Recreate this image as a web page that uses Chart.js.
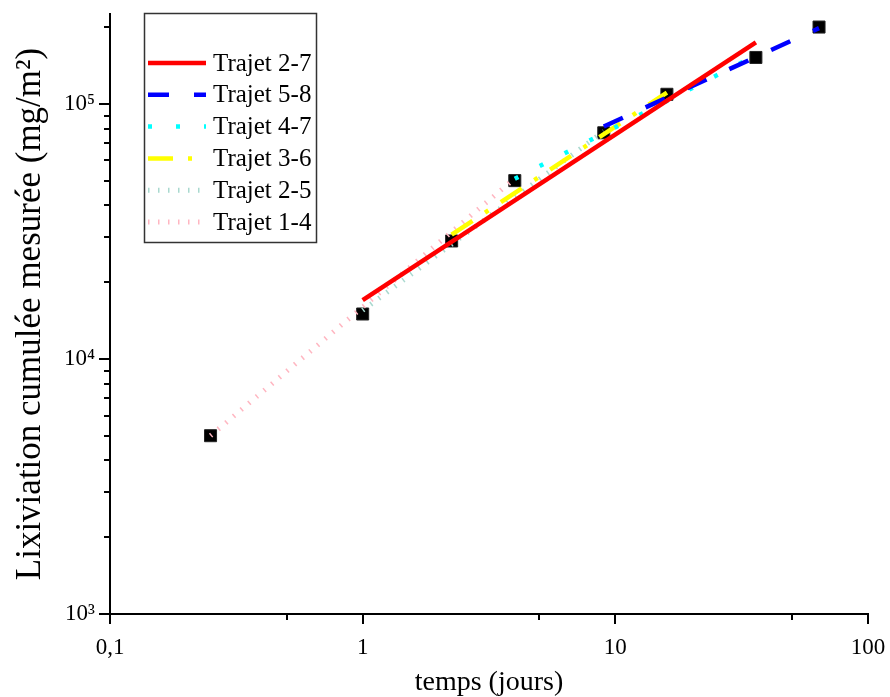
<!DOCTYPE html>
<html>
<head>
<meta charset="utf-8">
<script src="https://cdn.jsdelivr.net/npm/chart.js@4"></script>
<style>
  body { margin: 0; background: #fff; }
  #wrap { width: 890px; height: 697px; }
</style>
</head>
<body>
<div id="wrap"><canvas id="lixChart"></canvas></div>
<script>
// points mesurés (jours, mg/m²)
const tempsMesures = [0.25, 1, 2.25, 4, 9, 16, 36, 64];
const lixMesuree = [5000, 15000, 29000, 50000, 77000, 109000, 152000, 200000];

// droites d'ajustement par trajet : debut et fin
const trajetLabels = ["Trajet 2-7", "Trajet 5-8", "Trajet 4-7", "Trajet 3-6", "Trajet 2-5", "Trajet 1-4"];
const trajetTemps = [[1, 36], [9, 64], [4, 36], [2.25, 16], [1, 9], [0.25, 4]];
const trajetLix = [[17000, 174000], [81500, 198000], [50800, 155000], [30700, 110700], [15500, 78000], [5000, 51000]];

// axes
const xMajorTicks = [0.1, 1, 10, 100];
const xMinorTicks = [0.5, 5, 50];
const xTickLabels = ["0,1", "1", "10", "100"];
const yMajorTicks = [1000, 10000, 100000];
const yMinorTicks = [2000, 3000, 4000, 5000, 6000, 7000, 8000, 9000,
  20000, 30000, 40000, 50000, 60000, 70000, 80000, 90000, 200000];
const yTickLabels = ["10³", "10⁴", "10⁵"];

const serif = '"Liberation Serif", "Times New Roman", serif';

// style des traits (couleur, epaisseur, tirets)
const trajetStyles = [
  { color: "#ff0000", width: 4.5, dash: [] },
  { color: "#0000ff", width: 4.5, dash: [21, 25] },
  { color: "#00ffff", width: 4.5, dash: [4, 24] },
  { color: "#ffff00", width: 4.5, dash: [25, 15, 4, 15] },
  { color: "#a9d9cf", width: 5, dash: [1.5, 8.5] },
  { color: "#ffb6c1", width: 5, dash: [1.5, 8.5] }
];

const datasets = trajetLabels.map((label, i) => ({
  label: label,
  data: trajetTemps[i].map((t, k) => ({ x: t, y: trajetLix[i][k] })),
  showLine: true,
  borderColor: trajetStyles[i].color,
  borderWidth: trajetStyles[i].width,
  borderDash: trajetStyles[i].dash,
  borderCapStyle: "butt",
  pointRadius: 0,
  fill: false,
  tension: 0
}));

datasets.push({
  label: "",
  data: tempsMesures.map((t, i) => ({ x: t, y: lixMesuree[i] })),
  showLine: false,
  pointStyle: "rect",
  pointRadius: 8.5,
  backgroundColor: "#000",
  borderColor: "#222",
  borderWidth: 1
});

// petites graduations des axes
const axisTicks = {
  id: "axisTicks",
  afterDraw(chart) {
    const ctx = chart.ctx;
    const xs = chart.scales.x, ys = chart.scales.y;
    const area = chart.chartArea;
    ctx.save();
    ctx.strokeStyle = "#000";
    ctx.lineWidth = 2;
    ctx.beginPath();
    xMajorTicks.forEach(v => {
      const px = Math.round(xs.getPixelForValue(v));
      ctx.moveTo(px, area.bottom); ctx.lineTo(px, area.bottom + 10);
    });
    xMinorTicks.forEach(v => {
      const px = Math.round(xs.getPixelForValue(v));
      ctx.moveTo(px, area.bottom); ctx.lineTo(px, area.bottom + 6);
    });
    yMajorTicks.forEach(v => {
      const py = Math.round(ys.getPixelForValue(v));
      ctx.moveTo(area.left, py); ctx.lineTo(area.left - 11, py);
    });
    yMinorTicks.forEach(v => {
      const py = Math.round(ys.getPixelForValue(v));
      ctx.moveTo(area.left, py); ctx.lineTo(area.left - 6, py);
    });
    ctx.stroke();
    ctx.restore();
  }
};

// legende encadree en haut a gauche
const legendBox = {
  id: "legendBox",
  afterDraw(chart) {
    const ctx = chart.ctx;
    ctx.save();
    ctx.fillStyle = "#fff";
    ctx.fillRect(145, 14, 172, 229);
    ctx.strokeStyle = "#333";
    ctx.lineWidth = 1.5;
    ctx.strokeRect(144.5, 13.5, 172, 229);
    chart.data.datasets.forEach((ds, i) => {
      if (!ds.label) return;
      const y = 63 + i * 31.8;
      ctx.beginPath();
      ctx.setLineDash(ds.borderDash);
      ctx.lineWidth = ds.borderWidth;
      ctx.strokeStyle = ds.borderColor;
      ctx.moveTo(148, y);
      ctx.lineTo(206, y);
      ctx.stroke();
      ctx.setLineDash([]);
      ctx.fillStyle = "#000";
      ctx.font = "25px " + serif;
      ctx.textBaseline = "middle";
      ctx.fillText(ds.label, 213, y + 1);
    });
    ctx.restore();
  }
};

function noPadding(s) {
  s.paddingTop = 0; s.paddingBottom = 0;
  s.paddingLeft = 0; s.paddingRight = 0;
}

new Chart(document.getElementById("lixChart"), {
  type: "scatter",
  data: { datasets: datasets },
  options: {
    responsive: true,
    maintainAspectRatio: false,
    animation: false,
    layout: { padding: { top: 14, right: 22, left: 0, bottom: 0 } },
    plugins: {
      legend: { display: false },
      tooltip: { enabled: false }
    },
    scales: {
      x: {
        type: "logarithmic",
        min: 0.1,
        max: 100,
        afterFit: s => { s.height = 83; noPadding(s); },
        afterBuildTicks: s => { s.ticks = xMajorTicks.map(v => ({ value: v })); },
        grid: { display: false, drawTicks: false },
        border: { display: true, color: "#000", width: 2 },
        ticks: {
          autoSkip: false,
          maxRotation: 0,
          padding: 20,
          color: "#000",
          font: { family: serif, size: 23 },
          callback: (v, i) => xTickLabels[i]
        },
        title: {
          display: true,
          text: "temps (jours)",
          color: "#000",
          font: { family: serif, size: 28, lineHeight: 1 },
          padding: 0
        }
      },
      y: {
        type: "logarithmic",
        min: 1000,
        max: 225000,
        afterFit: s => { s.width = 110; noPadding(s); },
        afterBuildTicks: s => { s.ticks = yMajorTicks.map(v => ({ value: v })); },
        grid: { display: false, drawTicks: false },
        border: { display: true, color: "#000", width: 2 },
        ticks: {
          autoSkip: false,
          padding: 15,
          color: "#000",
          font: { family: serif, size: 23 },
          callback: (v, i) => yTickLabels[i]
        },
        title: {
          display: true,
          text: "Lixiviation cumulée mesurée (mg/m²)",
          color: "#000",
          font: { family: serif, size: 35, lineHeight: 1 },
          padding: { top: 13, bottom: 0 }
        }
      }
    }
  },
  plugins: [axisTicks, legendBox]
});
</script>
</body>
</html>
